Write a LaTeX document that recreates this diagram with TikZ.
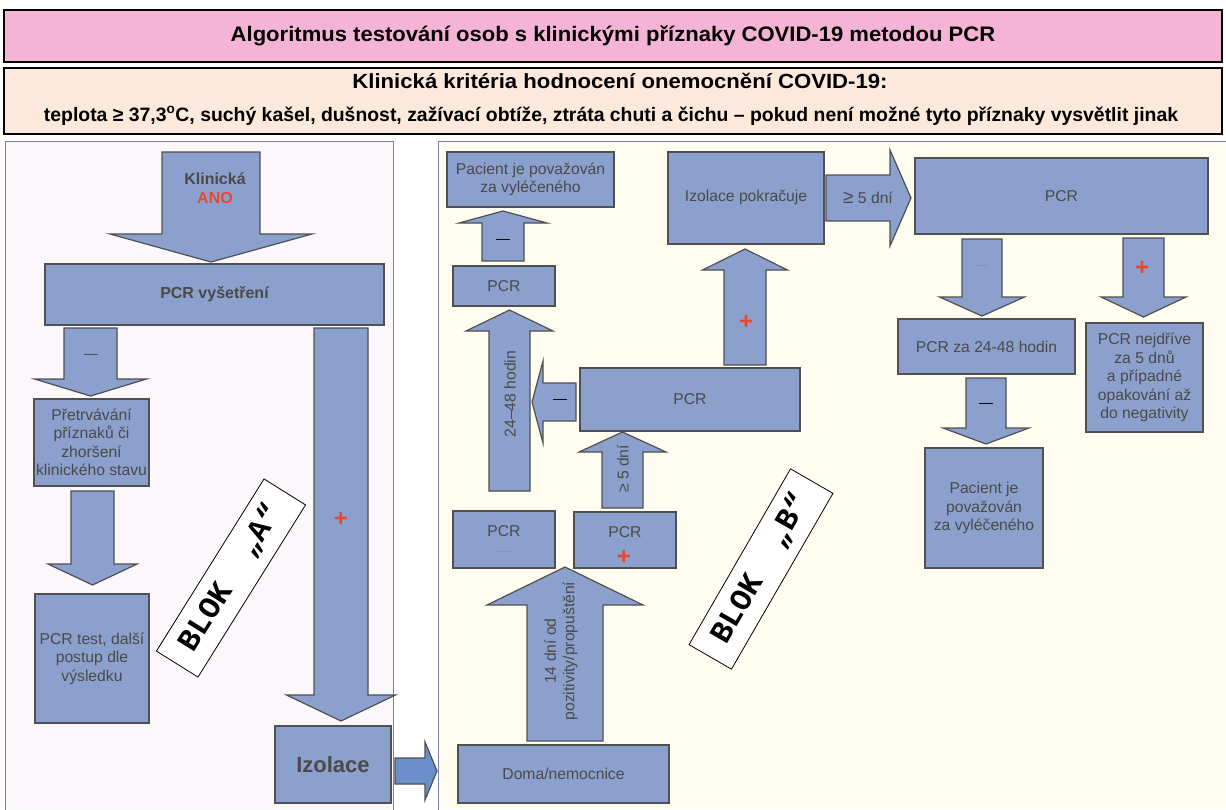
\documentclass[tikz,border=0pt]{standalone}
\usepackage{fontspec}
\setmainfont{Liberation Sans}
\newfontfamily\monofam{Liberation Mono}
\definecolor{boxfill}{HTML}{8BA0CC}
\definecolor{boxdraw}{HTML}{505050}
\definecolor{txtgray}{HTML}{4A4A4A}
\definecolor{plusred}{HTML}{E8482E}
\definecolor{leftbg}{HTML}{FBF7FB}
\definecolor{panelborder}{HTML}{7A80AA}
\definecolor{rightbg}{HTML}{FFFDF0}
\definecolor{titlepink}{HTML}{F5B4D6}
\definecolor{critpeach}{HTML}{FDE9DB}
\definecolor{brightblue}{HTML}{6B8FCB}
\definecolor{faintdash}{HTML}{7D92C0}
\newcommand\varrow[6]{\draw[barrow] ({#1-#3},#2) -- ({#1+#3},#2) -- ({#1+#3},#4) -- ({#1+#5},#4) -- (#1,#6) -- ({#1-#5},#4) -- ({#1-#3},#4) -- cycle;}
\newcommand\harrow[7][]{\draw[barrow,#1] (#3,{#2-#4}) -- (#3,{#2+#4}) -- (#5,{#2+#4}) -- (#5,{#2+#6}) -- (#7,#2) -- (#5,{#2-#6}) -- (#5,{#2-#4}) -- cycle;}
\begin{document}
\begin{tikzpicture}[x=1pt,y=-1pt,
  box/.style={draw=boxdraw, fill=boxfill, line width=1.2pt, inner sep=0pt, text=txtgray, align=center, font=\fontsize{15.7}{18.5}\selectfont},
  barrow/.style={draw=boxdraw, fill=boxfill, line width=1.2pt, line join=miter},
  lbl/.style={inner sep=0pt, text=txtgray, align=center, font=\fontsize{15.7}{18.5}\selectfont},
  dashlbl/.style={inner sep=0pt, text=black, font=\fontsize{14}{14}\selectfont},
  fdash/.style={inner sep=0pt, text=faintdash, font=\fontsize{14}{14}\selectfont},
  plus/.style={inner sep=0pt, text=plusred, font=\fontsize{24}{24}\selectfont\bfseries},
  blok/.style={draw=black, fill=white, line width=0.8pt, inner sep=0pt, minimum width=203, minimum height=49, font=\monofam\bfseries\fontsize{31}{31}\selectfont}]
\useasboundingbox (0,0) rectangle (1226,809);
\fill[white] (0,0) rectangle (1226,809);
% header
\node[draw=black, line width=1.2pt, fill=titlepink, minimum width=1218, minimum height=52, inner sep=0pt, font=\fontsize{21}{23}\selectfont\bfseries] (title) at (613,36) {\scalebox{1.05}[1]{Algoritmus testování osob s klinickými příznaky COVID-19 metodou PCR}};
\node[draw=black, line width=1.2pt, fill=critpeach, minimum width=1218, minimum height=66, inner sep=0pt] (crit) at (613,101) {};
\node[inner sep=0pt, font=\fontsize{20.5}{22}\selectfont\bfseries] (crit1) at (620,81) {\scalebox{1.08}[1]{Klinická kritéria hodnocení onemocnění COVID-19:}};
\node[inner sep=0pt, font=\fontsize{19.4}{20}\selectfont\bfseries] (crit2) at (611,116) {teplota ≥ 37,3\textsuperscript{o}C, suchý kašel, dušnost, zažívací obtíže, ztráta chuti a čichu – pokud není možné tyto příznaky vysvětlit jinak};
% panels
\fill[leftbg] (5,141) rectangle (393,809);
\draw[panelborder, line width=1pt] (5,812) -- (5,141) -- (393,141) -- (393,812);
\fill[rightbg] (438,141) rectangle (1226,809);
\draw[panelborder, line width=1pt] (438,812) -- (438,141) -- (1228,141);
% ---------- block A ----------
\varrow{211}{152}{49}{234}{101}{262}
\node[inner sep=0pt, align=center, text=txtgray, font=\fontsize{16}{19}\selectfont\bfseries] (klin) at (215,188) {Klinická\\\textcolor{plusred}{ANO}};
\node[box, minimum width=339, minimum height=61, font=\fontsize{16}{18}\selectfont\bfseries] (pcrv) at (214.5,294.5) {PCR vyšetření};
\varrow{90.5}{328}{26.5}{379}{56}{396}
\node[dashlbl, text=txtgray] (mA1) at (91,356) {—};
\node[box, minimum width=115, minimum height=87] (pretr) at (91.5,442.5) {Přetrvávání\\příznaků či\\zhoršení\\klinického stavu};
\varrow{92.5}{491}{21.5}{564}{44.5}{585}
\node[box, minimum width=114, minimum height=129] (pcrtest) at (92,658.5) {PCR test, další\\postup dle\\výsledku};
\varrow{341}{328}{27}{695}{54.5}{721}
\node[plus] (pA) at (341,519) {+};
\node[box, minimum width=116, minimum height=77, font=\fontsize{22}{24}\selectfont\bfseries] (izol) at (333,764.5) {\raisebox{-5pt}{Izolace}};
\node[blok, rotate=58] (blokA) at (231,578) {BLOK\ \ „A“};
\harrow[fill=brightblue]{771}{395}{13}{425}{29}{437}
% ---------- block B ----------
\node[box, minimum width=167, minimum height=55] (pac1) at (530.5,179.5) {Pacient je považován\\za vyléčeného};
\varrow{503}{261}{21}{223}{44}{211}
\node[dashlbl] (mB1) at (503,241) {—};
\node[box, minimum width=102, minimum height=40] (pcr1) at (504,286) {PCR};
\varrow{509.5}{491}{20.5}{331}{43.5}{310}
\node[lbl, rotate=90] (h2448) at (510,394) {24–48 hodin};
\harrow{402}{576}{19}{543}{41}{532}
\node[dashlbl] (mB2) at (560,401) {—};
\node[box, minimum width=220, minimum height=63] (pcrbig) at (690,399.5) {PCR};
\varrow{745}{365}{21}{270}{42.5}{249}
\node[plus] (pB1) at (746,322) {+};
\node[box, minimum width=156, minimum height=92] (izpok) at (746,198) {\raisebox{5pt}{Izolace pokračuje}};
\varrow{622.5}{508}{20.5}{452}{43.5}{432}
\node[lbl, rotate=90] (d5a) at (623,469) {≥ 5 dní};
\node[box, minimum width=102, minimum height=57] (pcrL) at (504,539.5) {};
\node[lbl] (pcrLt) at (504,531) {PCR};
\node[fdash] (pcrLd) at (504,553) {—};
\node[box, minimum width=102, minimum height=56] (pcrR) at (625,540) {};
\node[lbl] (pcrRt) at (625,532) {PCR};
\node[plus] (pB2) at (624,557) {+};
\varrow{565}{741}{38}{605}{78}{567}
\node[lbl, rotate=90] (d14) at (561,651) {14 dní od\\pozitivity/propuštění};
\node[box, minimum width=211, minimum height=58] (doma) at (563.5,774) {\raisebox{-5pt}{Doma/nemocnice}};
\node[blok, rotate=60] (blokB) at (761,569) {BLOK\ \ „B“};
% ---------- right part ----------
\harrow{198}{826}{23}{890}{48}{911}
\node[lbl] (d5b) at (868,198) {{\fontsize{19}{19}\selectfont≥} 5 dní};
\node[box, minimum width=293, minimum height=76] (pcrtop) at (1061.5,196) {PCR};
\varrow{982}{239}{20}{297}{42.5}{316}
\node[fdash] (mC1) at (982,267) {—};
\varrow{1143.5}{238}{20.5}{297}{42.5}{317}
\node[plus] (pC1) at (1142,268) {+};
\node[box, minimum width=177, minimum height=55] (pcr2448) at (986.5,346.5) {PCR za 24-48 hodin};
\node[box, minimum width=117, minimum height=109] (pcrnej) at (1144.5,377.5) {PCR nejdříve\\za 5 dnů\\a případné\\opakování až\\do negativity};
\varrow{986}{378}{20}{428}{43}{444}
\node[dashlbl] (mC2) at (986,405) {—};
\node[box, minimum width=118, minimum height=120] (pac2) at (984,508) {Pacient je\\považován\\za vyléčeného};
\end{tikzpicture}
\end{document}
